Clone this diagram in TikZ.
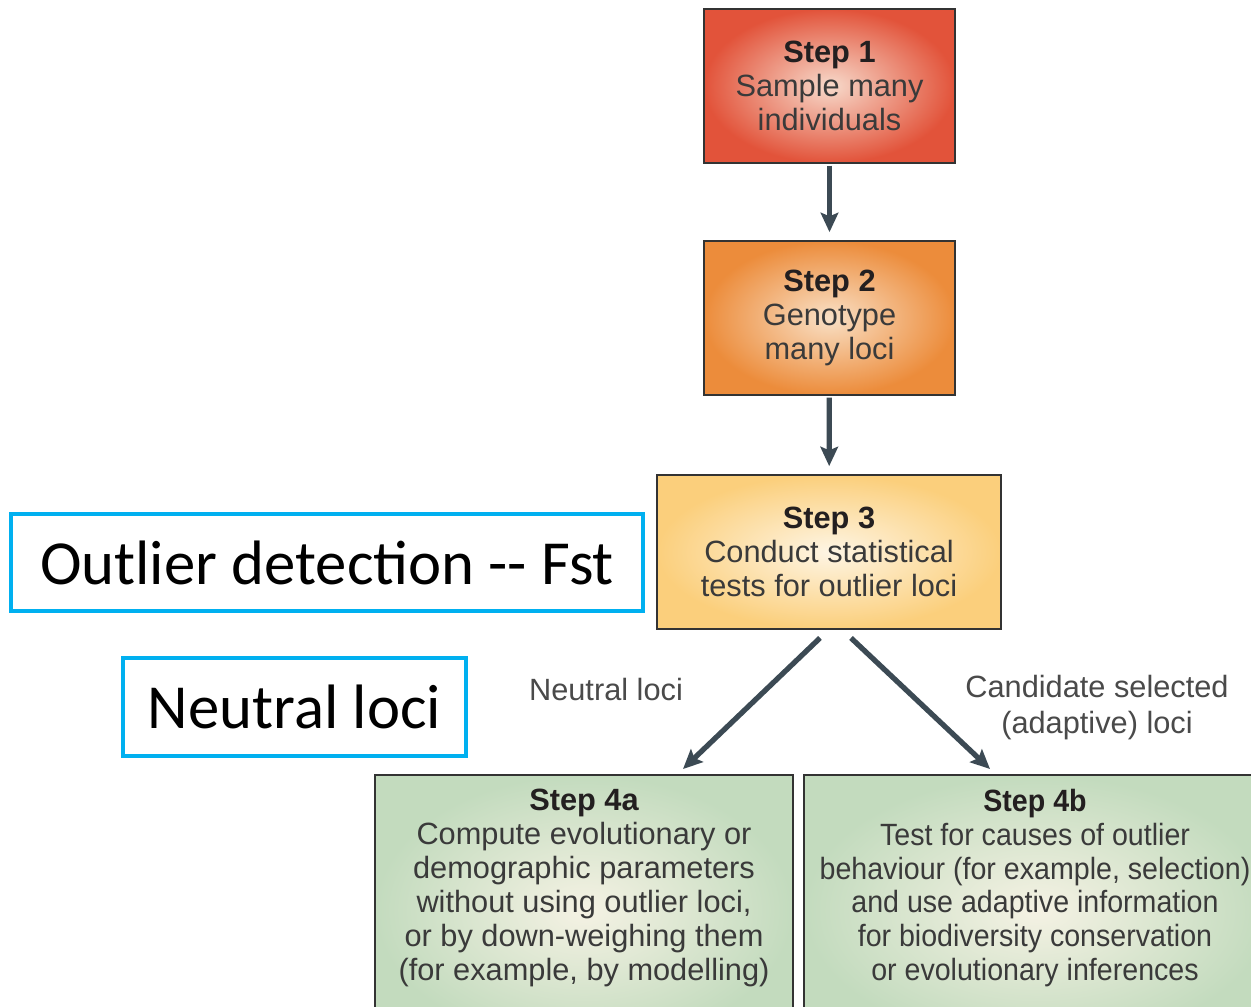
\documentclass[tikz,border=0pt]{standalone}
\usepackage{fontspec}
\setmainfont{Liberation Sans}
\newfontfamily\narrowsans[FakeStretch=0.93]{Liberation Sans}
\newfontfamily\calib{Carlito}
\usetikzlibrary{arrows.meta,calc}
\definecolor{redO}{HTML}{E2533A}
\definecolor{redI}{HTML}{F7DACB}
\definecolor{orgO}{HTML}{EC8C3B}
\definecolor{orgI}{HTML}{F9E0C6}
\definecolor{yelO}{HTML}{FBCF7C}
\definecolor{yelI}{HTML}{FEF5E4}
\definecolor{grnO}{HTML}{C3DBBE}
\definecolor{grnI}{HTML}{F5F2E4}
\definecolor{arrowc}{HTML}{3C4A54}
\definecolor{cyanb}{HTML}{00B0F0}
\definecolor{bodyc}{HTML}{3A3A3A}
\definecolor{titlec}{HTML}{231F20}
\definecolor{labc}{HTML}{4A4A4A}
\tikzset{
  stepbox/.style={draw=black!80, line width=1.1pt, minimum width=#1, inner sep=0pt},
  steptext/.style={align=center, text=bodyc, font=\fontsize{17.5pt}{19.3pt}\selectfont, inner sep=0pt},
  arr/.style={draw=arrowc, line width=3pt, -{Stealth[width=10pt,length=11pt,inset=2pt]}},
  cyanbox/.style={draw=cyanb, line width=2.2pt, inner sep=0pt, font=\calib\fontsize{35.7pt}{40pt}\selectfont},
  lab/.style={text=labc, align=center, inner sep=0pt, font=\fontsize{17.5pt}{20.5pt}\selectfont}
}
\newcommand{\ttl}[1]{{\color{titlec}\bfseries #1}}
\begin{document}
\begin{tikzpicture}[x=0.02cm,y=-0.02cm]
\clip (0,0) rectangle (1251,1007);
\fill[white] (0,0) rectangle (1251,1007);
% boxes
\node[stepbox=251*0.02cm, minimum height=154*0.02cm, inner color=redI, outer color=redO, steptext] (s1) at (829.5,86)
  {\ttl{Step 1}\\Sample many\\individuals};
\node[stepbox=251*0.02cm, minimum height=154*0.02cm, inner color=orgI, outer color=orgO, steptext] (s2) at (829.5,318)
  {\ttl{Step 2}\\Genotype\\many loci};
\node[stepbox=344*0.02cm, minimum height=154*0.02cm, inner color=yelI, outer color=yelO, steptext] (s3) at (829,552)
  {\ttl{Step 3}\\Conduct statistical\\tests for outlier loci};
\node[stepbox=418*0.02cm, minimum height=270*0.02cm, inner color=grnI, outer color=grnO, anchor=north] (s4a) at (584,774) {};
\node[stepbox=466*0.02cm, minimum height=270*0.02cm, inner color=grnI, outer color=grnO, anchor=north] (s4b) at (1037,774) {};
\node[steptext] (t4a) at (584,888)
  {\ttl{Step 4a}\\Compute evolutionary or\\demographic parameters\\without using outlier loci,\\or by down-weighing them\\(for example, by modelling)};
\node[steptext, font=\narrowsans\fontsize{17.5pt}{19.3pt}\selectfont] (t4b) at (1035,888)
  {\ttl{Step 4b}\\Test for causes of outlier\\behaviour (for example, selection)\\and use adaptive information\\for biodiversity conservation\\or evolutionary inferences};
% arrows
\draw[arr, shorten <=1pt, shorten >=4.5pt] (s1) -- (s2);
\draw[arr, shorten <=1pt, shorten >=4.5pt] (s2) -- (s3);
\draw[arr] ($(s3.south)+(-9,8)$) -- ($(s4a.north)+(99,-5)$);
\draw[arr] ($(s3.south)+(22,8)$) -- ($(s4b.north)+(-47,-5)$);
% labels
\node[lab] (ln) at (606,690) {Neutral loci};
\node[lab] (lc) at (1097,708) {Candidate selected\\(adaptive) loci};
% cyan boxes
\node[cyanbox, minimum width=632*0.02cm, minimum height=97*0.02cm] (od) at (327,562.5) {Outlier detection -- Fst};
\node[cyanbox, minimum width=343*0.02cm, minimum height=98*0.02cm] (nl) at (294.5,707) {Neutral loci};
\end{tikzpicture}
\end{document}
